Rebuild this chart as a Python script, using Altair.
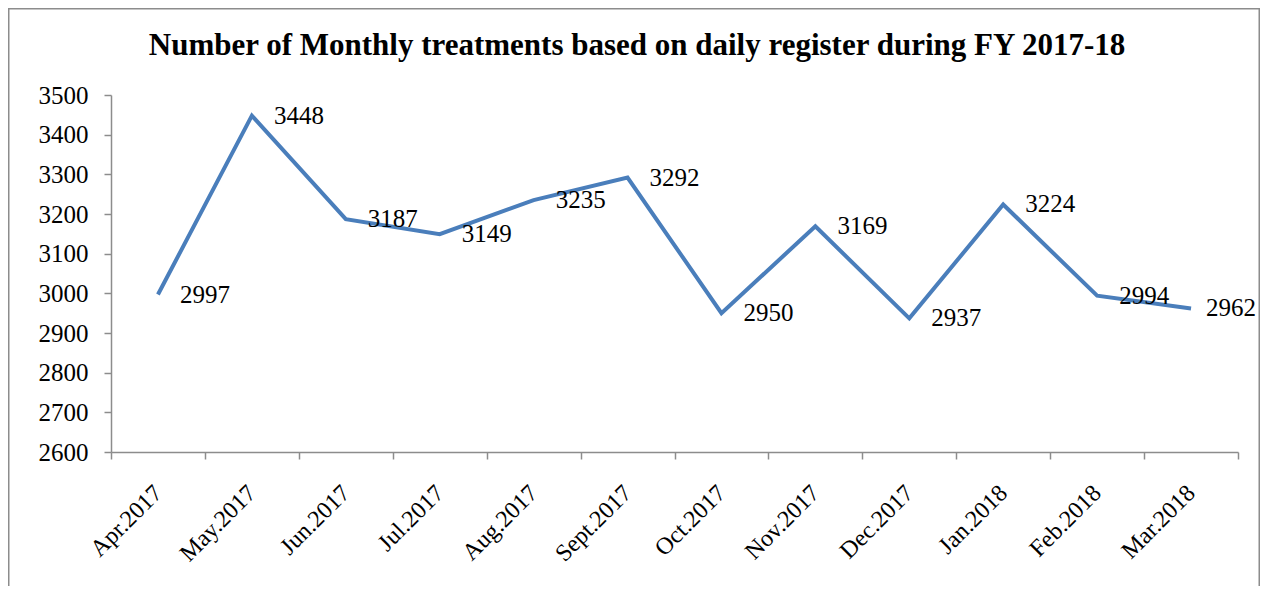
import altair as alt
import pandas as pd

months = ["Apr.2017", "May.2017", "Jun.2017", "Jul.2017", "Aug.2017", "Sept.2017",
          "Oct.2017", "Nov.2017", "Dec.2017", "Jan.2018", "Feb.2018", "Mar.2018"]
treatments = [2997, 3448, 3187, 3149, 3235, 3292, 2950, 3169, 2937, 3224, 2994, 2962]
title_text = ["Number of Monthly treatments based on daily register during FY 2017-18"]

df = pd.DataFrame({"month": months, "value": treatments})
tdf = pd.DataFrame({"t": title_text})

W, H = 1127, 357
PL, PT, PR, PB = 103, 87, 22, 134
FONT = "Liberation Serif"

x = alt.X("month:N", sort=months, title=None,
          scale=alt.Scale(paddingInner=0, paddingOuter=0),
          axis=alt.Axis(labelAngle=-45, labelAlign="right", labelBaseline="middle",
                        labelPadding=30, tickBand="extent", tickSize=7,
                        labelFontSize=24, labelFont=FONT, labelColor="black",
                        domainColor="#8c8c8c", tickColor="#8c8c8c",
                        domainWidth=1.5, tickWidth=1.5, grid=False))
y = alt.Y("value:Q", title=None,
          scale=alt.Scale(domain=[2600, 3500], nice=False, zero=False),
          axis=alt.Axis(values=list(range(2600, 3501, 100)), format="d", tickSize=7,
                        labelPadding=16, labelFontSize=25, labelFont=FONT,
                        labelColor="black", domainColor="#8c8c8c",
                        tickColor="#8c8c8c", domainWidth=1.5, tickWidth=1.5,
                        grid=False))

base = alt.Chart(df)

frame = alt.Chart(tdf).mark_rect(fillOpacity=0, stroke="#8c8c8c", strokeWidth=1.5).encode(
    x=alt.value(-PL + 0.75), x2=alt.value(W + PR - 0.75),
    y=alt.value(-PT + 0.75), y2=alt.value(H + PB + 20))

title = alt.Chart(tdf).mark_text(font=FONT, fontSize=31, fontWeight="bold",
                                 color="black", align="center",
                                 baseline="alphabetic").encode(
    x=alt.value(526), y=alt.value(-40), text="t:N")

line = base.mark_line(color="#4a7ebb", strokeWidth=4).encode(x=x, y=y)
labels = base.mark_text(align="left", baseline="middle", dx=22, font=FONT,
                        fontSize=25, color="black").encode(
    x=x, y=y, text=alt.Text("value:Q", format="d")
).transform_filter(alt.datum.month != months[-1])
last_label = base.mark_text(align="left", baseline="middle", dx=15, font=FONT,
                            fontSize=25, color="black").encode(
    x=x, y=y, text=alt.Text("value:Q", format="d")
).transform_filter(alt.datum.month == months[-1])

chart = alt.layer(frame, title, line, labels, last_label).properties(
    width=W, height=H,
    autosize=alt.AutoSizeParams(type="none"),
    padding={"left": PL, "top": PT, "right": PR, "bottom": PB},
).configure_view(stroke=None)

chart.save("out.html", embed_options={"renderer": "svg", "actions": False})
